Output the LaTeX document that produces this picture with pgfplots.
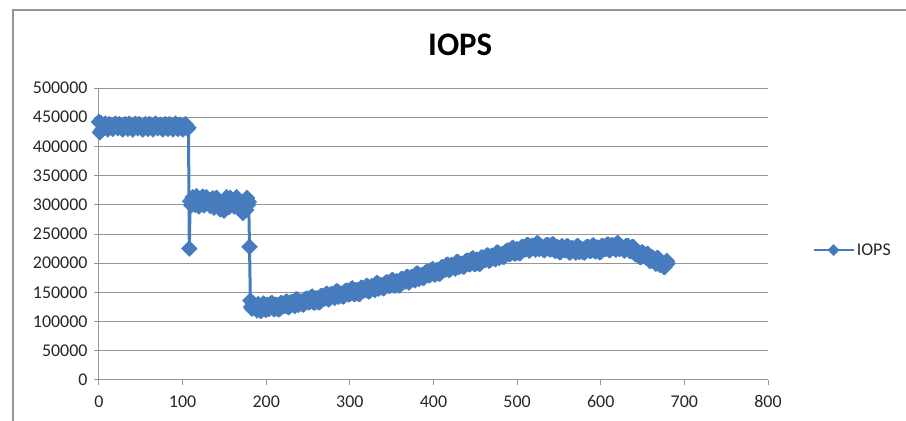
\documentclass[border=0pt]{standalone}
\usepackage{fontspec}
\setmainfont{Carlito}
\usepackage{pgfplots}
\usepackage{pgfplotstable}
\pgfplotsset{compat=1.18}
\definecolor{serblue}{RGB}{70,124,190}
\definecolor{gridgray}{RGB}{150,150,150}

\pgfplotstableread{
x y
0 442000
1 424000
2 440000
3 428000
4.5 430000
6 437000
7.5 439000
9 433000
10.5 429000
12 438000
13.5 437000
15 432000
16.5 430000
18 436000
19.5 439000
21 434000
22.5 431000
24 438000
25.5 436000
27 431000
28.5 429000
30 437000
31.5 438000
33 434000
34.5 430000
36 439000
37.5 437000
39 432000
40.5 429000
42 436000
43.5 439000
45 433000
46.5 431000
48 438000
49.5 436000
51 431000
52.5 429000
54 436000
55.5 438000
57 434000
58.5 430000
60 438000
61.5 437000
63 432000
64.5 429000
66 437000
67.5 439000
69 433000
70.5 431000
72 436000
73.5 437000
75 431000
76.5 429000
78 437000
79.5 438000
81 434000
82.5 430000
84 438000
85.5 437000
87 432000
88.5 429000
90 436000
91.5 439000
93 433000
94.5 430000
96 437000
97.5 437000
99 431000
100.5 429000
102 436000
103.5 438000
105 433000
106 430000
107 432000
108 225000
109 306000
110.5 299000
112 313000
113.5 308000
115 300000
116.5 315000
118 310000
119.5 297000
121 302000
122.5 309000
124 314000
125.5 299000
127 303000
128.5 313000
130 309000
131.5 302000
133 298000
134.5 306000
136 311000
137.5 295000
139 301000
140.5 312000
142 306000
143.5 298000
145 292000
146.5 303000
148 297000
149.5 290000
151 308000
152.5 313000
154 300000
155.5 296000
157 312000
158.5 306000
160 303000
161.5 297000
163 309000
164.5 313000
166 296000
167.5 300000
169 304000
170.5 293000
172 286000
173.5 303000
175 298000
176 291000
177 312000
178 300000
179 305000
180 228000
181 136000
182 125000
183 122000
184.5 131000
186 128000
187.5 123000
189 119000
190.5 130000
192 127000
193.5 118000
195 121000
196.5 131000
198 129000
199.5 120000
201 129000
202.5 122000
204 122500
205.5 131000
207 132000
208.5 122000
210 121500
211.5 129000
213 128000
214.5 121000
216 121500
217.5 132000
219 131000
220.5 127000
222 126500
223.5 134000
225 134000
226.5 124500
228 126000
229.5 133500
231 133000
232.5 129000
234 126500
235.5 138000
237 138000
238.5 128500
240 132000
241.5 134500
243 130000
244.5 129000
246 137500
247.5 139000
249 139500
250.5 133000
252 133500
253.5 141500
255 143000
256.5 133000
258 132500
259.5 140000
261 139500
262.5 133000
264 133500
265.5 144000
267 143500
268.5 140000
270 139500
271.5 147000
273 147500
274.5 138000
276 139500
277.5 147000
279 146500
280.5 143000
282 140500
283.5 151500
285 152000
286.5 142500
288 146000
289.5 148000
291 143500
292.5 143000
294 151500
295.5 153000
297 153000
298.5 146500
300 147000
301.5 155500
303 157000
304.5 147500
306 147000
307.5 154000
309 153500
310.5 147000
312 147500
313.5 158000
315 157500
316.5 154000
318 153500
319.5 160500
321 161000
322.5 151500
324 153000
325.5 160500
327 160000
328.5 156500
330 154000
331.5 165500
333 166000
334.5 156500
336 160000
337.5 162500
339 158000
340.5 157000
342 165500
343.5 167000
345 167500
346.5 161000
348 161500
349.5 170000
351 171500
352.5 162000
354 161500
355.5 169000
357 168500
358.5 162000
360 162000
361.5 173000
363 172500
364.5 169000
366 168500
367.5 176000
369 176500
370.5 167000
372 169000
373.5 176500
375 176000
376.5 172500
378 170500
379.5 182000
381 182500
382.5 173000
384 177000
385.5 179500
387 175000
388.5 175000
390 183500
391.5 185000
393 185500
394.5 179000
396 180000
397.5 188500
399 190000
400.5 181000
402 180500
403.5 188000
405 188000
406.5 182000
408 182500
409.5 193000
411 193000
412.5 189500
414 189000
415.5 197000
417 197500
418.5 188000
420 189500
421.5 197000
423 196500
424.5 193000
426 190500
427.5 202000
429 202500
430.5 193000
432 196500
433.5 199000
435 194500
436.5 194000
438 202500
439.5 204000
441 204500
442.5 198000
444 198500
445.5 207000
447 208500
448.5 199000
450 198500
451.5 206000
453 205500
454.5 199000
456 199500
457.5 210000
459 209500
460.5 206000
462 205500
463.5 213000
465 213500
466.5 204000
468 205500
469.5 213000
471 212500
472.5 209000
474 206500
475.5 218000
477 218500
478.5 209000
480 213000
481.5 215500
483 211000
484.5 211000
486 219500
487.5 221000
489 222000
490.5 215500
492 216000
493.5 225000
495 226500
496.5 217000
498 216500
499.5 224000
501 223500
502.5 217000
504 217500
505.5 228000
507 227500
508.5 224000
510 223500
511.5 231000
513 231000
514.5 221500
516 223000
517.5 230000
519 229500
520.5 226000
522 223000
523.5 234000
525 234000
526.5 224000
528 226500
529.5 228500
531 223500
532.5 222000
534 230000
535.5 231000
537 231000
538.5 224000
540 223500
541.5 231500
543 232500
544.5 222000
546 221000
547.5 228000
549 226500
550.5 219000
552 219000
553.5 229000
555 227500
556.5 223000
558 222000
559.5 229000
561 228500
562.5 218000
564 219000
565.5 226000
567 225000
568.5 221000
570 218000
571.5 229000
573 229000
574.5 219000
576 222000
577.5 224000
579 219000
580.5 218000
582 226500
583.5 228000
585 228000
586.5 221000
588 221000
589.5 229000
591 230500
592.5 221000
594 220000
595.5 227000
597 226000
598.5 219000
600 219500
601.5 230000
603 229000
604.5 225000
606 224500
607.5 232000
609 232000
610.5 222000
612 223500
613.5 231000
615 230000
616.5 226000
618 223000
619.5 234000
621 234000
622.5 224000
624 226500
625.5 228000
627 223000
628.5 221500
630 229000
631.5 229500
633 229000
634.5 221000
636 220500
637.5 228000
639 228000
640.5 217000
642 215000
643.5 221000
645 219000
646.5 211000
648 210000
649.5 219000
651 217000
652.5 212000
654 210000
655.5 216000
657 215000
658.5 204000
660 204000
661.5 210000
663 208000
664.5 203000
666 199000
667.5 209000
669 208000
670.5 197000
672 199000
673.5 200000
675 194000
676.5 193500
678 202000
679 204000
680 200000
}\iops

\begin{document}
\begin{tikzpicture}
\path[use as bounding box] (-99bp,-41bp) rectangle (807bp,380bp);
\draw[gridgray, line width=1.5bp] (-86bp,-41bp) -- (-86bp,370bp) -- (807bp,370bp);
\begin{axis}[
  at={(0,0)}, anchor=south west,
  scale only axis, width=669bp, height=292bp,
  xmin=0, xmax=800, ymin=0, ymax=500000,
  xtick={0,100,...,800},
  ytick={0,50000,...,500000},
  scaled y ticks=false,
  /pgf/number format/.cd, fixed, 1000 sep={}, assume math mode=true, /pgfplots/.cd,
  axis x line=bottom, axis y line=left,
  axis line style={gridgray, line width=1bp, -},
  tick align=outside, major tick length=5bp,
  tick style={gridgray, line width=1bp},
  ymajorgrids, grid style={gridgray, line width=1bp},
  ticklabel style={font=\fontsize{18}{18}\selectfont, text=black!85},
  xticklabel style={yshift=-7bp},
  yticklabel style={xshift=-3bp},
  clip=false,
  title={IOPS},
  title style={at={(0.54,1.128)}, anchor=center, font=\bfseries\fontsize{33}{33}\selectfont, text=black},
  legend style={at={(1.066,0.445)}, anchor=west, draw=none, fill=none,
    font=\fontsize{18}{18}\selectfont, inner sep=0pt, text=black!85},
  legend image code/.code={\draw[mark repeat=2,mark phase=2, mark size=4bp, line width=2.5bp] plot coordinates {(0bp,0bp) (20bp,0bp) (40bp,0bp)};},
]
\addplot[serblue, line width=3bp, line join=round, mark=square*, mark size=5.6bp,
  mark options={rotate=45, solid, line width=0.4bp}] table[x=x,y=y] {\iops};
\addlegendentry{IOPS}
\end{axis}
\end{tikzpicture}
\end{document}
